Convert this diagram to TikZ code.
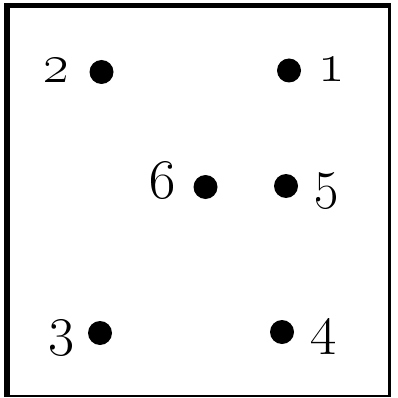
\RequirePackage{fix-cm}
\documentclass[tikz,border=0pt]{standalone}
\usetikzlibrary{positioning}

\begin{document}
\begin{tikzpicture}[x=1pt, y=-1pt,
    dot/.style={circle, fill=black, inner sep=0pt, minimum size=24pt},
    num/.style={font=\fontsize{56}{56}\selectfont\bfseries, inner sep=0pt}]

    % --- CANVAS ---
    \useasboundingbox (0,0) rectangle (397,398);

    % frame (heavier on top and left)
    \draw[line width=5.5] (4,5.5) -- (391,5.5);
    \draw[line width=6] (7,3) -- (7,397);
    \draw[line width=3] (389.5,3) -- (389.5,397);
    \draw[line width=2] (4,396) -- (391,396);

    % --- DOTS ---
    \node[dot] (d1) at (289,70.5) {};
    \node[dot] (d2) at (101.5,72) {};
    \node[dot] (d3) at (100,333) {};
    \node[dot] (d4) at (282,332) {};
    \node[dot] (d5) at (286,186) {};
    \node[dot] (d6) at (205.5,187) {};

    % --- NUMBERS ---
    \node[num, right=17pt of d1, anchor=base west, yshift=-11pt] (n1) {\oldstylenums{1}};
    \node[num, left=19pt of d2, anchor=base east, yshift=-11pt] (n2) {\oldstylenums{2}};
    \node[num, left=13pt of d3, anchor=base east, yshift=-11pt] (n3) {\oldstylenums{3}};
    \node[num, right=16pt of d4, anchor=base west, yshift=-11pt] (n4) {\oldstylenums{4}};
    \node[num, right=15pt of d5, anchor=base west, yshift=-11pt] (n5) {\oldstylenums{5}};
    \node[num, left=17pt of d6, anchor=base east, yshift=-11pt] (n6) {\oldstylenums{6}};

\end{tikzpicture}
\end{document}
